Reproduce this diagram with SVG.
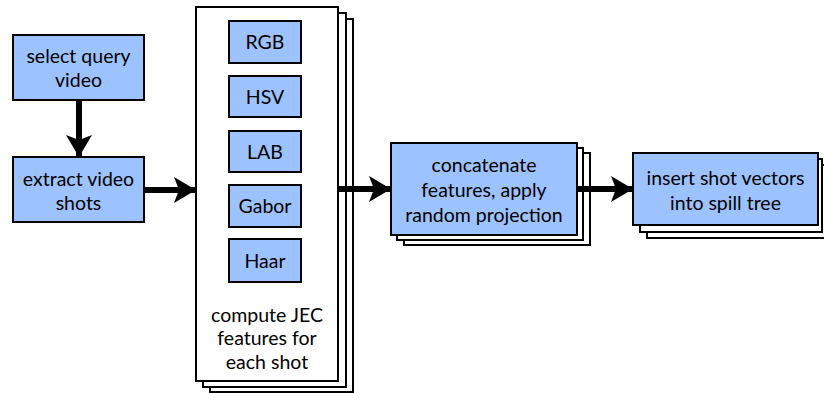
<svg xmlns="http://www.w3.org/2000/svg" width="824" height="393" viewBox="0 0 824 393">
  <style>
    .box { fill: #9cc3ff; stroke: #000; stroke-width: 2; }
    .sheet { fill: #fff; stroke: #000; stroke-width: 2; }
    .lbl { font-family: Lato, "Liberation Sans", sans-serif; font-size: 19.5px; fill: #000; text-anchor: middle; }
    .wire { stroke: #000; stroke-width: 6; fill: none; }
  </style>
  <defs>
    <marker id="head" markerUnits="userSpaceOnUse" markerWidth="22" markerHeight="26" refX="21" refY="13" orient="auto">
      <path d="M0,0 L22,13 L0,26 L5,13 Z" fill="#000"/>
    </marker>
  </defs>
  <rect width="824" height="393" fill="#fff"/>

  <g id="select-query-video">
    <rect class="box" x="13" y="35" width="131" height="65"/>
    <text class="lbl" x="78.5" y="63">select query</text>
    <text class="lbl" x="78.5" y="87">video</text>
  </g>

  <g id="extract-video-shots">
    <rect class="box" x="13" y="157" width="131" height="65"/>
    <text class="lbl" x="78.5" y="186">extract video</text>
    <text class="lbl" x="78.5" y="210">shots</text>
  </g>

  <g id="compute-jec-features">
    <rect class="sheet" x="210" y="19" width="143" height="373"/>
    <rect class="sheet" x="203" y="13" width="143" height="374"/>
    <rect class="sheet" x="196" y="7" width="142" height="374"/>
    <text class="lbl" x="267" y="322">compute JEC</text>
    <text class="lbl" x="267" y="345">features for</text>
    <text class="lbl" x="267" y="369">each shot</text>
  </g>

  <g id="rgb">
    <rect class="box" x="229" y="21" width="72" height="42"/>
    <text class="lbl" x="265" y="49">RGB</text>
  </g>
  <g id="hsv">
    <rect class="box" x="229" y="76" width="72" height="41"/>
    <text class="lbl" x="265" y="104">HSV</text>
  </g>
  <g id="lab">
    <rect class="box" x="229" y="131" width="72" height="41"/>
    <text class="lbl" x="265" y="159">LAB</text>
  </g>
  <g id="gabor">
    <rect class="box" x="229" y="185" width="72" height="42"/>
    <text class="lbl" x="265" y="213">Gabor</text>
  </g>
  <g id="haar">
    <rect class="box" x="229" y="239" width="72" height="43"/>
    <text class="lbl" x="265" y="268">Haar</text>
  </g>

  <g id="concatenate-project">
    <rect class="sheet" x="404" y="153" width="186" height="92"/>
    <rect class="sheet" x="397" y="148" width="186" height="92"/>
    <rect class="box" x="391" y="143" width="186" height="92"/>
    <text class="lbl" x="484" y="172">concatenate</text>
    <text class="lbl" x="484" y="197">features, apply</text>
    <text class="lbl" x="484" y="222">random projection</text>
  </g>

  <g id="insert-spill-tree">
    <rect class="sheet" x="647" y="165" width="186" height="73"/>
    <rect class="sheet" x="640" y="159" width="182" height="73"/>
    <rect class="box" x="633" y="153" width="185" height="72"/>
    <text class="lbl" x="725.5" y="185">insert shot vectors</text>
    <text class="lbl" x="725.5" y="210">into spill tree</text>
  </g>

  <g id="connectors">
    <line class="wire" x1="79" y1="101" x2="79" y2="156" marker-end="url(#head)"/>
    <line class="wire" x1="145" y1="190" x2="195" y2="190" marker-end="url(#head)"/>
    <line class="wire" x1="339" y1="189" x2="390" y2="189" marker-end="url(#head)"/>
    <line class="wire" x1="578" y1="189" x2="632" y2="189" marker-end="url(#head)"/>
  </g>
</svg>
